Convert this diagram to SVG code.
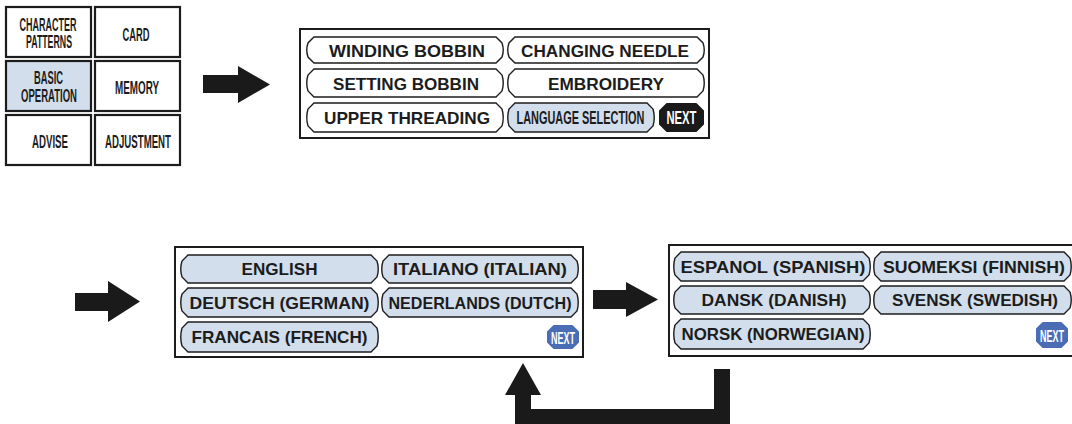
<svg xmlns="http://www.w3.org/2000/svg" width="1072" height="424" viewBox="0 0 1072 424">
  <style>
    text { font-family: "Liberation Sans", Arial, sans-serif; font-weight: bold; fill: #1c1c1c; text-anchor: middle; }
    .lbl { font-size: 16.5px; }
    .cnd { font-size: 17.5px; }
    .nxt { font-size: 17px; fill: #ffffff; }
    .nxt.big { font-size: 18px; }
    .cell { fill: #ffffff; stroke: #1c1c1c; stroke-width: 2.2; }
    .cell.on { fill: #d2deec; }
    .panel { fill: #ffffff; stroke: #1c1c1c; stroke-width: 2; }
    .btn { fill: #ffffff; stroke: #1c1c1c; stroke-width: 1.4; }
    .btn.on { fill: #d2deec; }
    .next-k { fill: #1a1a1a; stroke: #1a1a1a; stroke-width: 2; stroke-linejoin: round; }
    .next-b { fill: #4a6db5; stroke: #4a6db5; stroke-width: 2; stroke-linejoin: round; }
    .arrow { fill: #1a1a1a; }
  </style>
  <rect width="1072" height="424" fill="#ffffff"/>

  <!-- main menu grid -->
  <g id="menu-character-patterns">
    <rect class="cell" x="6" y="7" width="85" height="50"/>
    <text class="cnd" x="48" y="30.5" textLength="57" lengthAdjust="spacingAndGlyphs">CHARACTER</text>
    <text class="cnd" x="49" y="48" textLength="46" lengthAdjust="spacingAndGlyphs">PATTERNS</text>
  </g>
  <g id="menu-card">
    <rect class="cell" x="95" y="7" width="85" height="50"/>
    <text class="cnd" x="136" y="40.5" textLength="27" lengthAdjust="spacingAndGlyphs">CARD</text>
  </g>
  <g id="menu-basic-operation">
    <rect class="cell on" x="6" y="61" width="85" height="50"/>
    <text class="cnd" x="48.5" y="84" textLength="29" lengthAdjust="spacingAndGlyphs">BASIC</text>
    <text class="cnd" x="49" y="102" textLength="56" lengthAdjust="spacingAndGlyphs">OPERATION</text>
  </g>
  <g id="menu-memory">
    <rect class="cell" x="95" y="61" width="85" height="50"/>
    <text class="cnd" x="137" y="93.5" textLength="44" lengthAdjust="spacingAndGlyphs">MEMORY</text>
  </g>
  <g id="menu-advise">
    <rect class="cell" x="6" y="115" width="85" height="50"/>
    <text class="cnd" x="50" y="147.5" textLength="36" lengthAdjust="spacingAndGlyphs">ADVISE</text>
  </g>
  <g id="menu-adjustment">
    <rect class="cell" x="95" y="115" width="85" height="50"/>
    <text class="cnd" x="138" y="147.5" textLength="66" lengthAdjust="spacingAndGlyphs">ADJUSTMENT</text>
  </g>

  <!-- basic operation screen -->
  <g id="screen-basic-operation">
    <rect class="panel" x="300" y="29" width="409" height="109"/>
    <g id="btn-winding-bobbin">
      <path class="btn" d="M314 37 H496 L502 43 Q504.5 50 502 57 L496 63 H314 L308 57 Q305.5 50 308 43 Z"/>
      <text class="lbl" x="407" y="56.5" textLength="156" lengthAdjust="spacingAndGlyphs">WINDING BOBBIN</text>
    </g>
    <g id="btn-changing-needle">
      <path class="btn" d="M515 37 H697 L703 43 Q705.5 50 703 57 L697 63 H515 L509 57 Q506.5 50 509 43 Z"/>
      <text class="lbl" x="605" y="56.5" textLength="168" lengthAdjust="spacingAndGlyphs">CHANGING NEEDLE</text>
    </g>
    <g id="btn-setting-bobbin">
      <path class="btn" d="M314 69 H496 L502 75 Q504.5 83 502 91 L496 97 H314 L308 91 Q305.5 83 308 75 Z"/>
      <text class="lbl" x="406" y="90" textLength="146" lengthAdjust="spacingAndGlyphs">SETTING BOBBIN</text>
    </g>
    <g id="btn-embroidery">
      <path class="btn" d="M515 69 H697 L703 75 Q705.5 83 703 91 L697 97 H515 L509 91 Q506.5 83 509 75 Z"/>
      <text class="lbl" x="606" y="90" textLength="116" lengthAdjust="spacingAndGlyphs">EMBROIDERY</text>
    </g>
    <g id="btn-upper-threading">
      <path class="btn" d="M314 103 H496 L502 109 Q504.5 117.5 502 126 L496 132 H314 L308 126 Q305.5 117.5 308 109 Z"/>
      <text class="lbl" x="407" y="124" textLength="166" lengthAdjust="spacingAndGlyphs">UPPER THREADING</text>
    </g>
    <g id="btn-language-selection">
      <path class="btn on" d="M515 103 H647 L653 109 Q655.5 117.5 653 126 L647 132 H515 L509 126 Q506.5 117.5 509 109 Z"/>
      <text class="cnd" x="580.5" y="124" textLength="128" lengthAdjust="spacingAndGlyphs">LANGUAGE SELECTION</text>
    </g>
    <g id="btn-next-1">
      <path class="next-k" d="M667 104 H696 L703 111 V124 L696 131 H667 L660 124 V111 Z"/>
      <text class="nxt big" x="681.5" y="124" textLength="30" lengthAdjust="spacingAndGlyphs">NEXT</text>
    </g>
  </g>

  <!-- language page 1 -->
  <g id="screen-language-1">
    <rect class="panel" x="175" y="247" width="408" height="110"/>
    <g id="btn-english">
      <path class="btn on" d="M188 255 H371 L377 261 Q379.5 269 377 277 L371 283 H188 L182 277 Q179.5 269 182 261 Z"/>
      <text class="lbl" x="279.5" y="275" textLength="76" lengthAdjust="spacingAndGlyphs">ENGLISH</text>
    </g>
    <g id="btn-italiano">
      <path class="btn on" d="M389 255 H571 L577 261 Q579.5 269 577 277 L571 283 H389 L383 277 Q380.5 269 383 261 Z"/>
      <text class="lbl" x="480" y="275" textLength="174" lengthAdjust="spacingAndGlyphs">ITALIANO (ITALIAN)</text>
    </g>
    <g id="btn-deutsch">
      <path class="btn on" d="M188 288 H371 L377 294 Q379.5 302.5 377 311 L371 317 H188 L182 311 Q179.5 302.5 182 294 Z"/>
      <text class="lbl" x="279.5" y="308.5" textLength="180" lengthAdjust="spacingAndGlyphs">DEUTSCH (GERMAN)</text>
    </g>
    <g id="btn-nederlands">
      <path class="btn on" d="M389 288 H571 L577 294 Q579.5 302.5 577 311 L571 317 H389 L383 311 Q380.5 302.5 383 294 Z"/>
      <text class="lbl" x="480" y="308.5" textLength="183" lengthAdjust="spacingAndGlyphs">NEDERLANDS (DUTCH)</text>
    </g>
    <g id="btn-francais">
      <path class="btn on" d="M188 322 H371 L377 328 Q379.5 337 377 346 L371 352 H188 L182 346 Q179.5 337 182 328 Z"/>
      <text class="lbl" x="279.5" y="343" textLength="176" lengthAdjust="spacingAndGlyphs">FRANCAIS (FRENCH)</text>
    </g>
    <g id="btn-next-2">
      <path class="next-b" d="M554 326 H572 L578 332 V342 L572 348 H554 L548 342 V332 Z"/>
      <text class="nxt" x="563" y="343.5" textLength="24" lengthAdjust="spacingAndGlyphs">NEXT</text>
    </g>
  </g>

  <!-- language page 2 -->
  <g id="screen-language-2">
    <rect class="panel" x="669" y="245" width="410" height="111"/>
    <g id="btn-espanol">
      <path class="btn on" d="M681 252 H863 L869 258 Q871.5 266.5 869 275 L863 281 H681 L675 275 Q672.5 266.5 675 258 Z"/>
      <text class="lbl" x="773" y="272.5" textLength="185" lengthAdjust="spacingAndGlyphs">ESPANOL (SPANISH)</text>
    </g>
    <g id="btn-suomeksi">
      <path class="btn on" d="M881 252 H1064 L1070 258 Q1072.5 266.5 1070 275 L1064 281 H881 L875 275 Q872.5 266.5 875 258 Z"/>
      <text class="lbl" x="974" y="272.5" textLength="182" lengthAdjust="spacingAndGlyphs">SUOMEKSI (FINNISH)</text>
    </g>
    <g id="btn-dansk">
      <path class="btn on" d="M681 286 H863 L869 292 Q871.5 300 869 308 L863 314 H681 L675 308 Q672.5 300 675 292 Z"/>
      <text class="lbl" x="774" y="306" textLength="145" lengthAdjust="spacingAndGlyphs">DANSK (DANISH)</text>
    </g>
    <g id="btn-svensk">
      <path class="btn on" d="M881 286 H1064 L1070 292 Q1072.5 300 1070 308 L1064 314 H881 L875 308 Q872.5 300 875 292 Z"/>
      <text class="lbl" x="975" y="306" textLength="166" lengthAdjust="spacingAndGlyphs">SVENSK (SWEDISH)</text>
    </g>
    <g id="btn-norsk">
      <path class="btn on" d="M681 319 H863 L869 325 Q871.5 334 869 343 L863 349 H681 L675 343 Q672.5 334 675 325 Z"/>
      <text class="lbl" x="773" y="340" textLength="183" lengthAdjust="spacingAndGlyphs">NORSK (NORWEGIAN)</text>
    </g>
    <g id="btn-next-3">
      <path class="next-b" d="M1043 323 H1061 L1067 329 V341 L1061 347 H1043 L1037 341 V329 Z"/>
      <text class="nxt" x="1052" y="341.5" textLength="24" lengthAdjust="spacingAndGlyphs">NEXT</text>
    </g>
  </g>

  <!-- flow arrows -->
  <g id="connectors">
    <polygon class="arrow" points="203,75 238,75 238,66 270,84.5 238,103 238,93 203,93"/>
    <polygon class="arrow" points="75,293 108,293 108,281 140,301.5 108,322 108,311 75,311"/>
    <polygon class="arrow" points="593,290 626,290 626,282 658,299.5 626,317 626,309 593,309"/>
    <polygon class="arrow" points="714,369 730,369 730,430 515,430 515,395 505,395 523,363 541,395 531,395 531,409 714,409"/>
  </g>
</svg>
